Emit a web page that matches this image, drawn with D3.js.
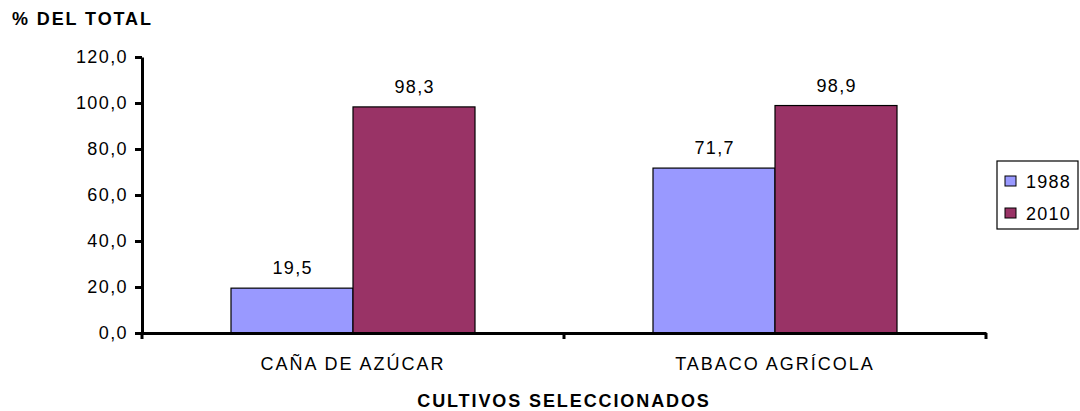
<!DOCTYPE html>
<html><head><meta charset="utf-8">
<script src="https://cdn.jsdelivr.net/npm/d3@7"></script>
<style>body{margin:0;background:#fff}svg{display:block;font-family:"Liberation Sans",Arial,sans-serif}</style>
</head><body><svg id="c" width="1080" height="411"></svg>
<script>
const categories = ["CAÑA DE AZÚCAR", "TABACO AGRÍCOLA"];
const seriesNames = ["1988", "2010"];
const values1988 = [19.5, 71.7];
const values2010 = [98.3, 98.9];
const yTicks = [0, 20, 40, 60, 80, 100, 120];
const colors = ["#9999FF", "#993366"];

const svg = d3.select("#c");
const x0 = 142, x1 = 986, yB = 333, yT = 57;
const fmt = v => v.toFixed(1).replace(".", ",");
const FS = 18;

const y = d3.scaleLinear().domain([0, 120]).range([yB, yT]);
const xBand = d3.scaleBand().domain(categories).range([x0, x1]).paddingInner(0).paddingOuter(0);
const xSub = d3.scaleBand().domain(seriesNames).range([0, 244]);
const groupOffset = (xBand.bandwidth() - 244) / 2;

const data = categories.map((c, i) => ({cat: c, vals: [values1988[i], values2010[i]]}));

// bars
const g = svg.append("g");
data.forEach(d => {
  d.vals.forEach((v, j) => {
    const bx = xBand(d.cat) + groupOffset + xSub(seriesNames[j]);
    g.append("rect")
      .attr("x", bx).attr("y", y(v))
      .attr("width", xSub.bandwidth()).attr("height", y(0) - y(v))
      .attr("fill", colors[j]).attr("stroke", "#000").attr("stroke-width", 1.2);
    g.append("text")
      .attr("x", bx + xSub.bandwidth() / 2 + 0.7).attr("y", y(v) - 14)
      .attr("text-anchor", "middle").attr("font-size", FS).attr("letter-spacing", 1.4).attr("fill", "#000")
      .text(fmt(v));
  });
});

// y axis
const yAxis = d3.axisLeft(y).tickValues(yTicks).tickSize(7).tickSizeOuter(0).tickFormat(fmt);
const ya = svg.append("g").attr("transform", `translate(${x0},0)`).call(yAxis);
ya.select(".domain").attr("stroke-width", 3).attr("stroke", "#000");
ya.selectAll(".tick line").attr("stroke-width", 3).attr("stroke", "#000");
ya.selectAll(".tick text").attr("font-size", FS).attr("letter-spacing", 1.4)
  .attr("font-family", "Liberation Sans, Arial, sans-serif").attr("fill", "#000").attr("x", -14);

// x axis
const xAxis = d3.axisBottom(xBand).tickSize(0).tickSizeOuter(0);
const xa = svg.append("g").attr("transform", `translate(0,${yB})`).call(xAxis);
xa.select(".domain").attr("stroke-width", 3).attr("stroke", "#000");
xa.selectAll(".tick text").attr("font-size", FS).attr("letter-spacing", 2)
  .attr("font-family", "Liberation Sans, Arial, sans-serif").attr("fill", "#000").attr("dy", 0).attr("y", 37);
// category boundary ticks
const bounds = [x0, x0 + xBand.bandwidth(), x1];
svg.append("g").selectAll("line").data(bounds).join("line")
  .attr("x1", d => d).attr("x2", d => d).attr("y1", yB).attr("y2", yB + 6)
  .attr("stroke", "#000").attr("stroke-width", 3);

// titles
svg.append("text").attr("x", 12).attr("y", 25).attr("font-size", FS).attr("letter-spacing", 1.9)
  .attr("font-weight", "bold").text("% DEL TOTAL");
svg.append("text").attr("x", (x0 + x1) / 2).attr("y", 407).attr("text-anchor", "middle")
  .attr("font-size", FS).attr("letter-spacing", 1.9).attr("font-weight", "bold").text("CULTIVOS SELECCIONADOS");

// legend
const lg = svg.append("g");
lg.append("rect").attr("x", 997).attr("y", 161).attr("width", 81).attr("height", 68)
  .attr("fill", "#fff").attr("stroke", "#000").attr("stroke-width", 1.2);
seriesNames.forEach((s, j) => {
  const yy = 176 + j * 32;
  lg.append("rect").attr("x", 1005).attr("y", yy).attr("width", 11).attr("height", 10)
    .attr("fill", colors[j]).attr("stroke", "#000").attr("stroke-width", 1);
  lg.append("text").attr("x", 1026).attr("y", yy + 11.5).attr("font-size", FS).attr("letter-spacing", 1.2).text(s);
});
</script></body></html>
